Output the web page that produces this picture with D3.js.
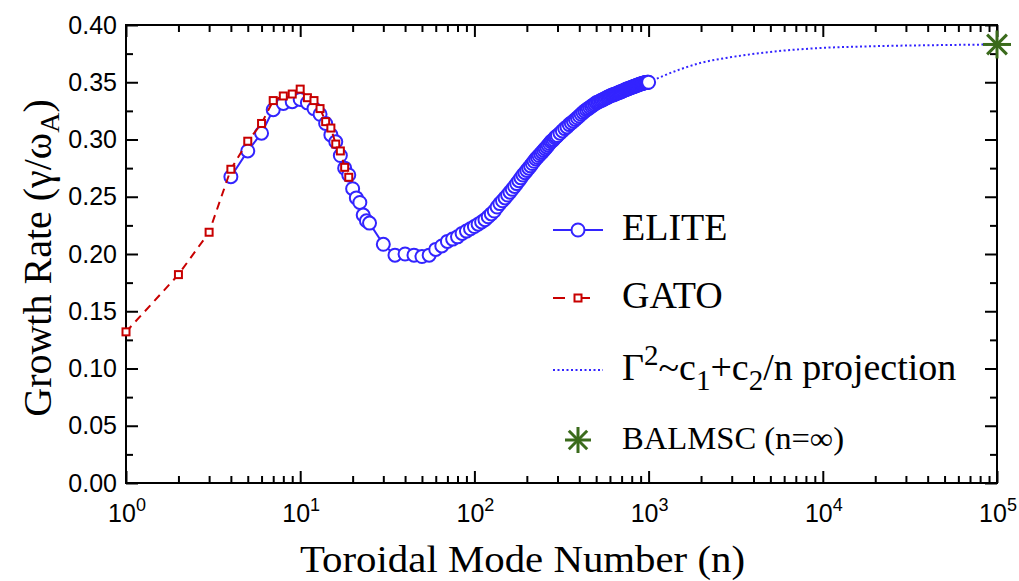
<!DOCTYPE html>
<html><head><meta charset="utf-8">
<script src="https://cdn.jsdelivr.net/npm/d3@7"></script>
<style>body{margin:0;background:#fff}svg{display:block}</style>
</head><body>
<svg id="c" width="1019" height="581"></svg>
<script>
// ---- data ----
const gatoData = [[1,0.132],[2,0.182],[3,0.219],[4,0.274],[5,0.2985],[6,0.314],[7,0.334],[8,0.338],[9,0.3397],[10,0.344],[11,0.3365],[12,0.334],[13,0.327],[14,0.3156],[15,0.310],[16,0.296],[17,0.290],[18,0.2757],[19,0.267]];
const eliteData = [[4,0.2675],[5,0.290],[6,0.3055],[7,0.326],[8,0.3315],[9,0.333],[10,0.335],[11,0.332],[12,0.327],[13,0.322],[14,0.314],[15,0.304],[16,0.298],[17,0.286],[18,0.275],[19,0.269],[20,0.257],[21,0.249],[22,0.245],[23,0.234],[24,0.229],[25,0.227],
[30,0.2085],[35,0.199],[40,0.200],[45,0.199],[50,0.1978],[55,0.199],[60,0.204],[65,0.207],[70,0.211],[75,0.213],[80,0.215],[85,0.218],[90,0.220],[95,0.222],
[100,0.224],[105,0.226],[110,0.228],[115,0.230],[120,0.2325],[125,0.235],[130,0.2375],[135,0.241],[140,0.244],[145,0.2465],[150,0.249],[155,0.2515],[160,0.254],[165,0.2565],[170,0.259],[175,0.2615],[180,0.264],[185,0.2665],[190,0.269],[195,0.271],[200,0.273],[205,0.275],[210,0.277],[215,0.279],[220,0.281],[225,0.283],[230,0.2845],[235,0.286],[240,0.2875],[245,0.289],[250,0.2905],[255,0.292],[260,0.2935],[265,0.295],[270,0.2965],[275,0.298],[280,0.299],[285,0.300],[290,0.3015],[295,0.3025],[300,0.3035],
[310,0.3055],[320,0.3075],[330,0.3095],[340,0.311],[350,0.313],[360,0.3145],[370,0.316],[380,0.3175],[390,0.319],[400,0.3205],[410,0.322],[420,0.3235],[430,0.3248],[440,0.326],[450,0.327],[460,0.328],[470,0.329],[480,0.330],[490,0.331],[500,0.332],[510,0.3326],[520,0.3332],[530,0.3338],[540,0.3344],[550,0.335],[560,0.3356],[570,0.3362],[580,0.3368],[590,0.3374],[600,0.338],
[610,0.3384],[620,0.3388],[630,0.3392],[640,0.3396],[650,0.340],[660,0.3404],[670,0.3408],[680,0.3412],[690,0.3416],[700,0.342],[710,0.3424],[720,0.3428],[730,0.3432],[740,0.3436],[750,0.344],[760,0.3443],[770,0.3446],[780,0.345],[790,0.3453],[800,0.3456],[810,0.3459],[820,0.3462],[830,0.3465],[840,0.3468],[850,0.3471],[860,0.3474],[870,0.3477],[880,0.348],[890,0.3482],[900,0.3485],[910,0.3487],[920,0.349],[930,0.3492],[940,0.3494],[950,0.3496],[960,0.3497],[970,0.3498],[980,0.3499],[990,0.350],[1000,0.350]];
const projData = [[1000,0.350],[1500,0.361],[2000,0.367],[3000,0.372],[5000,0.3765],[7000,0.3785],[10000,0.380],[20000,0.3815],[50000,0.3825],[100000,0.383]];
const balmscData = [[100000,0.383]];
const xMajorTicks = [1,10,100,1000,10000,100000];
const xTickExponents = ["0","1","2","3","4","5"];
const yMajorTicks = [0,0.05,0.10,0.15,0.20,0.25,0.30,0.35,0.40];
const yMinorTicks = [0.025,0.075,0.125,0.175,0.225,0.275,0.325,0.375];
const legendLabels = ["ELITE","GATO","projection","BALMSC (n=\u221e)"];

// ---- layout ----
const L=126, R=997, T=25, B=483;
const svg = d3.select("#c");
const x = d3.scaleLog().domain([1,1e5]).range([L,R]);
const y = d3.scaleLinear().domain([0,0.4]).range([B,T]);
const xMinor = [];
xMajorTicks.slice(0,-1).forEach(d=>{for(let k=2;k<=9;k++) xMinor.push(d*k);});

const BLUE="#3324ff", RED="#c80000", GREEN="#3b6b1c";
const sans="'Liberation Sans', Arial, sans-serif", serif="'Liberation Serif','Times New Roman', serif";

// ---- axes (box, inward ticks) ----
const axG = svg.append("g").attr("class","axes");
function styleAxis(g){ g.select(".domain").remove(); g.selectAll("line").attr("stroke","#000").attr("stroke-width",2); }
axG.append("g").attr("transform",`translate(0,${B})`).call(d3.axisBottom(x).tickValues(xMajorTicks).tickSize(-12).tickFormat("")).call(styleAxis);
axG.append("g").attr("transform",`translate(0,${B})`).call(d3.axisBottom(x).tickValues(xMinor).tickSize(-7).tickFormat("")).call(styleAxis);
axG.append("g").attr("transform",`translate(0,${T})`).call(d3.axisTop(x).tickValues(xMajorTicks).tickSize(-12).tickFormat("")).call(styleAxis);
axG.append("g").attr("transform",`translate(0,${T})`).call(d3.axisTop(x).tickValues(xMinor).tickSize(-7).tickFormat("")).call(styleAxis);
const yl = axG.append("g").attr("transform",`translate(${L},0)`).call(d3.axisLeft(y).tickValues(yMajorTicks).tickSize(-12).tickPadding(9).tickFormat(d3.format(".2f"))).call(styleAxis);
yl.selectAll("text").attr("font-family",sans).attr("font-size",25).attr("fill","#000");
axG.append("g").attr("transform",`translate(${L},0)`).call(d3.axisLeft(y).tickValues(yMinorTicks).tickSize(-7).tickFormat("")).call(styleAxis);
axG.append("g").attr("transform",`translate(${R},0)`).call(d3.axisRight(y).tickValues(yMajorTicks).tickSize(-12).tickFormat("")).call(styleAxis);
axG.append("g").attr("transform",`translate(${R},0)`).call(d3.axisRight(y).tickValues(yMinorTicks).tickSize(-7).tickFormat("")).call(styleAxis);
axG.append("rect").attr("x",L).attr("y",T).attr("width",R-L).attr("height",B-T).attr("fill","none").attr("stroke","#000").attr("stroke-width",2);

// x tick labels 10^k
const xl = axG.append("g");
xMajorTicks.forEach((d,i)=>{
  const t = xl.append("text").attr("x",x(d)+1).attr("y",522).attr("text-anchor","middle").attr("font-family",sans).attr("font-size",25).attr("fill","#000");
  t.append("tspan").text("10");
  t.append("tspan").attr("font-size",18).attr("dy",-11).text(xTickExponents[i]);
});

// axis titles
svg.append("text").attr("x",300).attr("y",572).attr("font-family",serif).attr("font-size",37)
  .attr("textLength",445).attr("lengthAdjust","spacingAndGlyphs").text("Toroidal Mode Number (n)");
const yt = svg.append("text").attr("transform","translate(51,258) rotate(-90)").attr("text-anchor","middle").attr("font-family",serif).attr("font-size",40);
yt.append("tspan").text("Growth Rate (\u03b3/\u03c9");
yt.append("tspan").attr("font-size",28).attr("dy",8).text("A");
yt.append("tspan").attr("dy",-8).text(")");

// ---- series ----
const line = d3.line().x(d=>x(d[0])).y(d=>y(d[1]));
svg.append("path").datum(projData).attr("d",line.curve(d3.curveMonotoneX)).attr("fill","none").attr("stroke",BLUE).attr("stroke-width",2).attr("stroke-dasharray","2,2.5");
line.curve(d3.curveLinear);
svg.append("path").datum(eliteData).attr("d",line).attr("fill","none").attr("stroke",BLUE).attr("stroke-width",2);
svg.append("g").selectAll("circle").data(eliteData).join("circle")
  .attr("cx",d=>x(d[0])).attr("cy",d=>y(d[1])).attr("r",6.5).attr("fill","#fff").attr("stroke",BLUE).attr("stroke-width",2);
svg.append("path").datum(gatoData).attr("d",line).attr("fill","none").attr("stroke",RED).attr("stroke-width",2).attr("stroke-dasharray","8,6");
svg.append("g").selectAll("rect").data(gatoData).join("rect")
  .attr("x",d=>x(d[0])-3.5).attr("y",d=>y(d[1])-3.5).attr("width",7).attr("height",7).attr("fill","#fff").attr("stroke",RED).attr("stroke-width",2);

function star(g,cx,cy,r){
  [0,45,90,135].forEach(a=>{
    const rad=a*Math.PI/180;
    g.append("line").attr("x1",cx-r*Math.cos(rad)).attr("y1",cy-r*Math.sin(rad)).attr("x2",cx+r*Math.cos(rad)).attr("y2",cy+r*Math.sin(rad))
      .attr("stroke",GREEN).attr("stroke-width",3);
  });
}
balmscData.forEach(d=>star(svg.append("g"),x(d[0]),y(d[1]),14));

// ---- legend ----
const lg = svg.append("g");
const lx1=553, lx2=603, lcx=578, tx=622;
// ELITE
lg.append("line").attr("x1",lx1).attr("x2",lx2).attr("y1",230).attr("y2",230).attr("stroke",BLUE).attr("stroke-width",2);
lg.append("circle").attr("cx",lcx).attr("cy",230).attr("r",6.5).attr("fill","#fff").attr("stroke",BLUE).attr("stroke-width",2);
lg.append("text").attr("x",tx).attr("y",240).attr("font-family",serif).attr("font-size",38).text(legendLabels[0]);
// GATO
lg.append("line").attr("x1",lx1).attr("x2",lx2).attr("y1",298).attr("y2",298).attr("stroke",RED).attr("stroke-width",2).attr("stroke-dasharray","12,13");
lg.append("rect").attr("x",lcx-3.5).attr("y",298-3.5).attr("width",7).attr("height",7).attr("fill","#fff").attr("stroke",RED).attr("stroke-width",2);
lg.append("text").attr("x",tx).attr("y",308).attr("font-family",serif).attr("font-size",38).text(legendLabels[1]);
// projection
lg.append("line").attr("x1",lx1).attr("x2",lx2).attr("y1",370).attr("y2",370).attr("stroke",BLUE).attr("stroke-width",2).attr("stroke-dasharray","2,2.5");
const pt = lg.append("text").attr("x",tx).attr("y",380).attr("font-family",serif).attr("font-size",38);
pt.append("tspan").text("\u0393");
pt.append("tspan").attr("font-size",29).attr("dy",-15).text("2");
pt.append("tspan").attr("dy",15).text("~c");
pt.append("tspan").attr("font-size",29).attr("dy",10).text("1");
pt.append("tspan").attr("dy",-10).text("+c");
pt.append("tspan").attr("font-size",29).attr("dy",10).text("2");
pt.append("tspan").attr("dy",-10).text("/n "+legendLabels[2]);
// BALMSC
star(lg,lcx,440,13);
lg.append("text").attr("x",tx).attr("y",449).attr("font-family",serif).attr("font-size",31)
  .attr("textLength",222).attr("lengthAdjust","spacingAndGlyphs").text(legendLabels[3]);
</script>
</body></html>
